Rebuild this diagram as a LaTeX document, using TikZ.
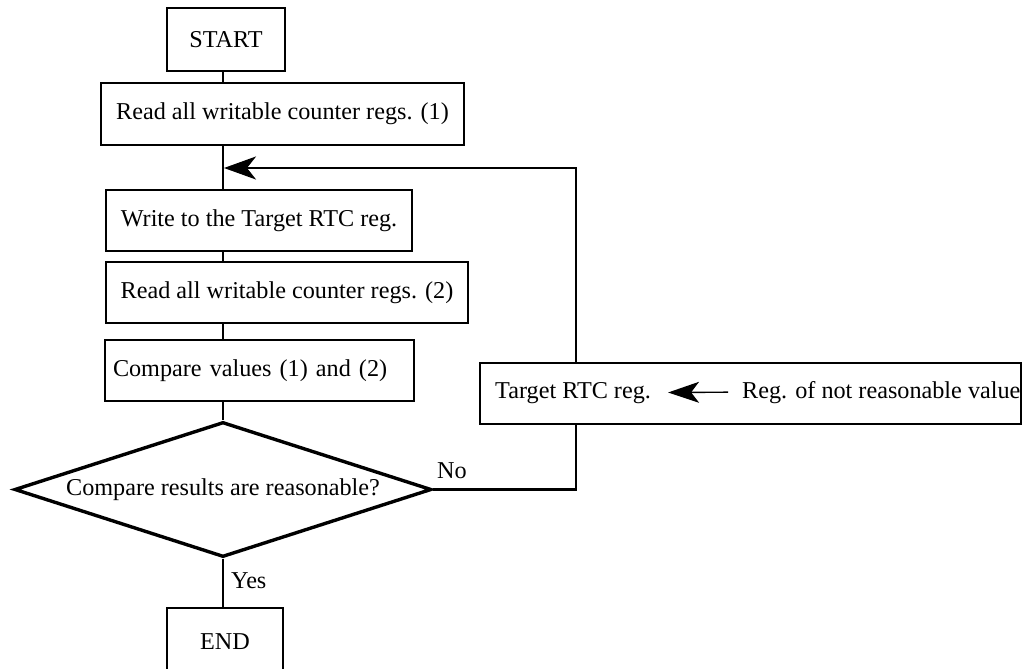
\documentclass[tikz,border=0pt]{standalone}
\usepackage{fontspec}
\setmainfont{Liberation Serif}
\usetikzlibrary{shapes.geometric,arrows.meta}
\begin{document}
\begin{tikzpicture}[x=1pt,y=-1pt,
  every node/.style={font=\fontsize{24.2}{28}\selectfont},
  box/.style={draw, line width=2.9pt, rectangle, inner sep=0pt},
  dec/.style={draw, diamond, line width=3.4pt, inner sep=0pt, minimum width=417pt, minimum height=135pt, shape aspect=3.09},
  conn/.style={line width=2.5pt},
  lbl/.style={inner sep=0pt},
  bigtip/.style={-{Stealth[length=32pt,width=23pt,inset=9pt]}},
  smalltip/.style={-{Stealth[length=31pt,width=21pt,inset=8pt]}}
]
\clip (0,0) rectangle (1023,669);
\fill[white] (0,0) rectangle (1023,669);
\coordinate (trunk) at (223,0);
\coordinate (loopx) at (576,0);
\coordinate (merge) at (224,168);

\node[box, minimum width=118pt, minimum height=63pt] (start) at (226,39.5) {START};
\node[box, minimum width=363pt, minimum height=62pt] (read1) at (282.5,114) {Read all writable counter regs. (1)};
\node[box, minimum width=306pt, minimum height=61pt] (write) at (259,220.5) {Write to the Target RTC reg.};
\node[box, minimum width=362pt, minimum height=61pt] (read2) at (287,292.5) {Read all writable counter regs. (2)};
\node[box, text width=293pt, align=left, inner xsep=8pt, minimum height=61pt] (cmp) at (259.5,370.5) {Compare values (1) and (2)};
\node[dec] (dia) at (223,489.5) {Compare results are reasonable?};
\node[box, minimum width=116pt, minimum height=68pt] (stop) at (225,642) {END};

\node[box, minimum width=541pt, minimum height=61pt] (tgt) at (750.5,393.5) {};
\node[lbl, anchor=base west] (t1) at (495,398) {Target RTC reg.};
\node[lbl, anchor=base west] (t2) at (742,398) {Reg. of not reasonable value};
\draw[line width=1.4pt, smalltip, shorten <=14pt, shorten >=17pt] (t2.west) -- (t1.east);

\node[lbl, anchor=base west] (no) at (437,478) {No};
\node[lbl, anchor=west] (yes) at (231,581) {Yes};

\draw[conn] (start.south -| trunk) -- (read1.north -| trunk);
\draw[conn] (read1.south -| trunk) -- (write.north -| trunk);
\draw[conn] (write.south -| trunk) -- (read2.north -| trunk);
\draw[conn] (read2.south -| trunk) -- (cmp.north -| trunk);
\draw[conn] (cmp.south -| trunk) -- (dia.north);
\draw[conn] (dia.south) -- (dia.south |- stop.north);
\draw[conn] (dia.east) -| (tgt.south -| loopx);
\draw[conn, bigtip] (tgt.north -| loopx) |- (merge);
\end{tikzpicture}
\end{document}
